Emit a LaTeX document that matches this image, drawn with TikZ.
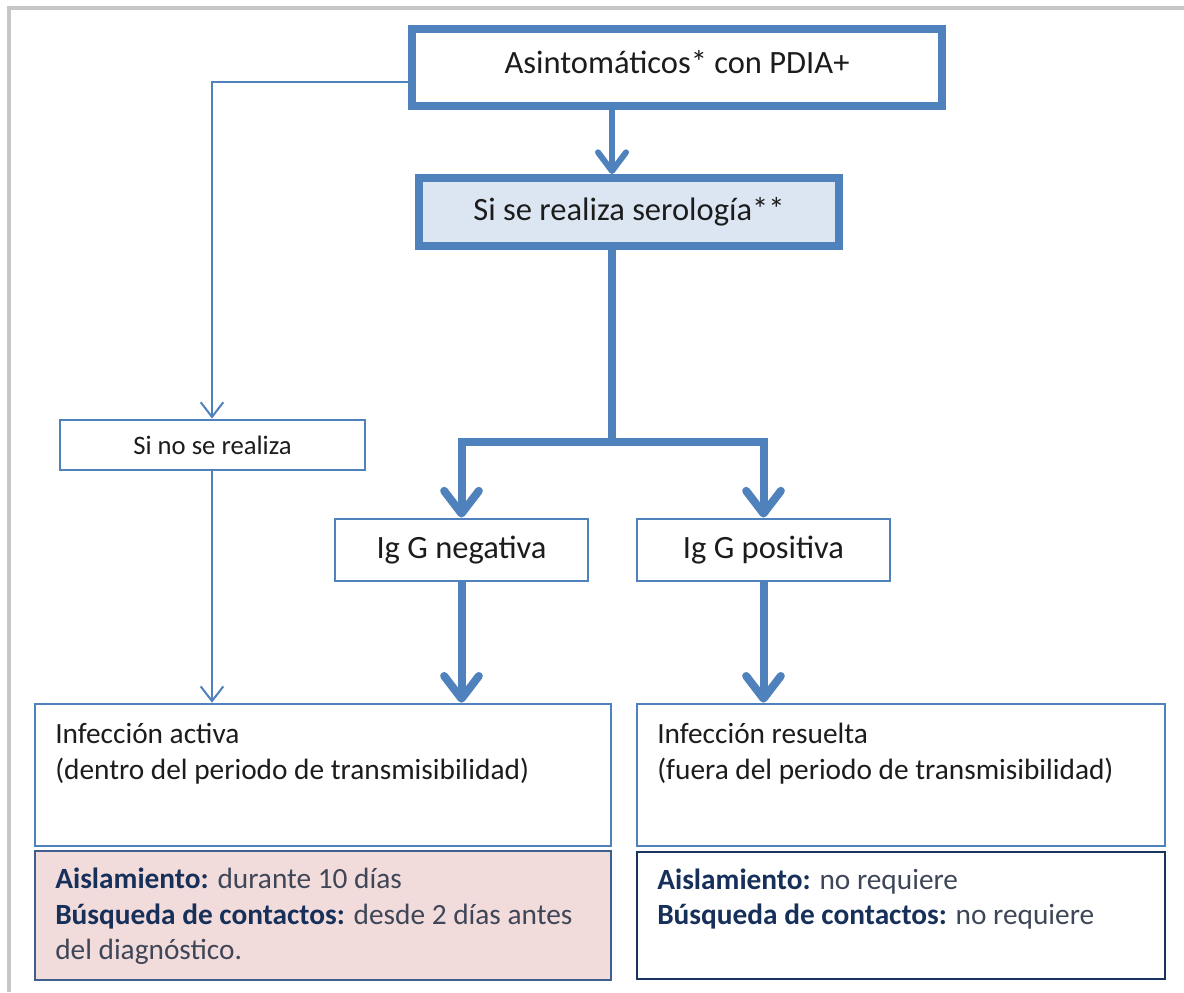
\documentclass[tikz,border=0pt]{standalone}
\usepackage{fontspec}
\setmainfont{Carlito}
\usetikzlibrary{arrows.meta}
\definecolor{mblue}{HTML}{4F81BD}
\definecolor{serofill}{HTML}{DCE6F2}
\definecolor{pinkfill}{HTML}{F2DCDB}
\definecolor{pinkborder}{HTML}{3F5F8F}
\definecolor{navyborder}{HTML}{1A3461}
\definecolor{txt}{HTML}{1C1C1C}
\definecolor{bnavy}{HTML}{16305A}
\definecolor{ngray}{HTML}{3E4658}
\definecolor{framegray}{HTML}{C6C6C6}
\begin{document}
\begin{tikzpicture}[x=0.75pt,y=-0.75pt,
  bigbox/.style={draw=mblue, line width=6pt, inner sep=0pt, text=txt, font=\fontsize{24.4}{29}\selectfont},
  smallbox/.style={draw=mblue, line width=2.2pt, inner sep=0pt, text=txt, font=\fontsize{24.4}{29}\selectfont},
  sinobox/.style={draw=mblue, line width=2.2pt, inner sep=0pt, text=txt, font=\fontsize{20}{24}\selectfont},
  infobox/.style={draw=mblue, line width=2pt, inner sep=0pt},
  bodytxt/.style={anchor=base west, inner sep=0pt, text=txt, font=\fontsize{22}{27}\selectfont},
  ruletxt/.style={anchor=base west, inner sep=0pt, text=ngray, font=\fontsize{22}{27}\selectfont},
  thickline/.style={draw=mblue, line width=6pt},
  thickarrow/.style={draw=mblue, line width=6pt, -{Straight Barb[length=17pt,width=26pt,round]}},
  medarrow/.style={draw=mblue, line width=4.5pt, -{Straight Barb[length=14pt,width=21pt,round]}},
  thinarrow/.style={draw=mblue, line width=1.5pt, -{Straight Barb[length=11pt,width=17pt]}}
]
\useasboundingbox (0,0) rectangle (1184,992);
\fill[white] (0,0) rectangle (1184,992);
\draw[framegray, line width=2.4pt] (1184,8) -- (9,8) -- (9,992);

% boxes
\node[bigbox, text depth=8pt, minimum width=397.5pt, minimum height=57.75pt] (top) at (677,67.5) {Asintomáticos* con PDIA+};
\node[bigbox, fill=serofill, minimum width=315pt, minimum height=51pt] (sero) at (629,212) {Si se realiza serología**};
\node[smallbox, minimum width=189.75pt, minimum height=46.5pt] (neg) at (461.5,550) {Ig G negativa};
\node[smallbox, minimum width=189.75pt, minimum height=46.5pt] (pos) at (763.5,550) {Ig G positiva};
\node[sinobox, minimum width=228.75pt, minimum height=37.5pt] (sino) at (212.5,445) {Si no se realiza};

\node[infobox, minimum width=432pt, minimum height=106.5pt] (act) at (323,775) {};
\node[draw=pinkborder, fill=pinkfill, line width=1.5pt, inner sep=0pt, minimum width=432pt, minimum height=96.75pt] (pink) at (323,915.5) {};
\node[infobox, minimum width=396pt, minimum height=106.5pt] (res) at (901,775) {};
\node[draw=navyborder, line width=2.2pt, inner sep=0pt, minimum width=396pt, minimum height=95.25pt] (rb) at (901,915.5) {};

% texts
\node[bodytxt] (a1) at (55,743) {Infección activa};
\node[bodytxt] (a2) at (55,779) {(dentro del periodo de transmisibilidad)};
\node[bodytxt] (r1) at (657,743) {Infección resuelta};
\node[bodytxt] (r2) at (657,779) {(fuera del periodo de transmisibilidad)};
\node[ruletxt] (p1) at (55,888) {\textbf{\color{bnavy}Aislamiento:} durante 10 días};
\node[ruletxt] (p2) at (55,924) {\textbf{\color{bnavy}Búsqueda de contactos:} desde 2 días antes};
\node[ruletxt] (p3) at (55,959) {del diagnóstico.};
\node[ruletxt] (q1) at (657,889) {\textbf{\color{bnavy}Aislamiento:} no requiere};
\node[ruletxt] (q2) at (657,924) {\textbf{\color{bnavy}Búsqueda de contactos:} no requiere};

% connectors
\coordinate (c1) at (612,0);
\coordinate (split) at (612,442);
\coordinate (c2) at (212,82);
\draw[medarrow] (top.south -| c1) -- (sero.north -| c1);
\draw[thickline, line cap=rect] (sero.south -| split) -- (split);
\draw[thickarrow] (split) -| (neg.north);
\draw[thickarrow] (split) -| (pos.north);
\draw[thickarrow] (neg.south) -- (neg.south |- act.north);
\draw[thickarrow] (pos.south) -- (pos.south |- res.north);
\draw[thinarrow] (top.west |- c2) -- (c2) -- (c2 |- sino.north);
\draw[thinarrow] (sino.south -| c2) -- (c2 |- act.north);
\end{tikzpicture}
\end{document}
